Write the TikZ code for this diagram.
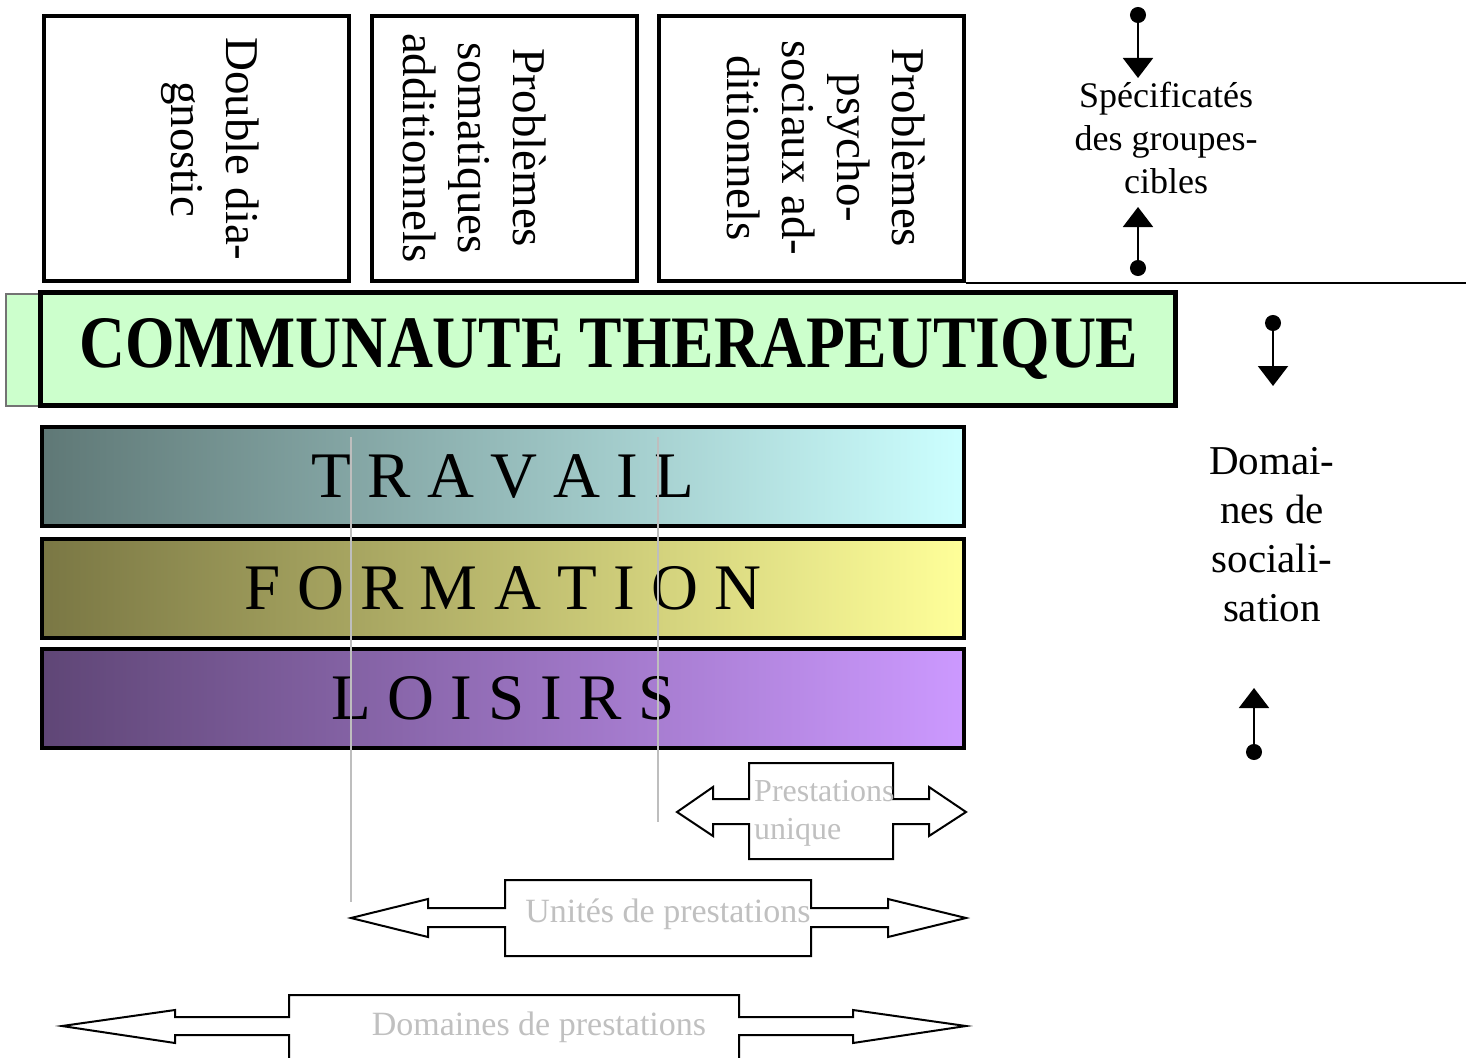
\documentclass[tikz,border=0pt]{standalone}
\usepackage{fontspec}
\setmainfont{Liberation Serif}
\usetikzlibrary{arrows.meta}
\definecolor{greenfill}{RGB}{204,255,204}
\definecolor{presgray}{RGB}{192,192,192}
\definecolor{linegray}{RGB}{190,190,190}
\definecolor{travL}{RGB}{95,120,118}
\definecolor{travR}{RGB}{204,255,255}
\definecolor{formL}{RGB}{122,119,68}
\definecolor{formR}{RGB}{255,255,153}
\definecolor{loisL}{RGB}{95,70,118}
\definecolor{loisR}{RGB}{204,153,255}
\begin{document}
\begin{tikzpicture}[x=1pt,y=-1pt,
  topbox/.style={draw, line width=4pt, fill=white, inner sep=0pt},
  toptext/.style={rotate=-90, align=center, font=\fontsize{47}{55}\selectfont, inner sep=0pt},
  barbox/.style={draw, line width=4pt, inner sep=0pt, minimum width=922pt, minimum height=99pt, font=\fontsize{65}{70}\selectfont},
  prestext/.style={text=presgray, inner sep=0pt},
  bigarrow/.style={draw, line width=2pt, fill=white, line join=miter},
  dotarrow/.style={line width=2pt, {Circle[length=16pt]}-{Triangle[length=20pt,width=30pt]}},
  grayline/.style={draw=linegray, line width=1.5pt},
  sidetext/.style={align=center, inner sep=0pt},
]
\useasboundingbox (0,0) rectangle (1466,1057);
\clip (0,0) rectangle (1466,1057);

% top boxes
\node[topbox, minimum width=305pt, minimum height=265pt] (b1) at (196.5,148.5) {};
\node[topbox, minimum width=265pt, minimum height=265pt] (b2) at (504.5,148.5) {};
\node[topbox, minimum width=305pt, minimum height=265pt] (b3) at (811.5,148.5) {};
\node[toptext] (t1) at (210,149) {Double dia-\\gnostic};
\node[toptext] (t2) at (475,148) {Problèmes\\somatiques\\additionnels};
\node[toptext] (t3) at (826,148) {Problèmes\\psycho-\\sociaux ad-\\ditionnels};

% horizontal rule
\coordinate (hr) at (1466,283);
\draw[line width=1.5pt] (b3.south east) -- (hr);

% communaute
\node[draw=black!55, line width=1.5pt, fill=greenfill, inner sep=0pt, minimum width=34pt, minimum height=112pt] (gs) at (23,350) {};
\node[draw, line width=5pt, fill=greenfill, inner sep=0pt, minimum width=1135pt, minimum height=113pt] (ct) at (608,349) {};
\node[anchor=base, inner sep=0pt, font=\bfseries\fontsize{74}{80}\selectfont] (ctt) at (609,367) {\scalebox{0.86}[1]{COMMUNAUTE THERAPEUTIQUE}};

% bars
\node[barbox, left color=travL, right color=travR] (trav) at (503,476.5) {T R A V A I L};
\node[barbox, left color=formL, right color=formR] (form) at (503,588.5) {F O R M A T I O N};
\node[barbox, left color=loisL, right color=loisR] (lois) at (503,698) {L O I S I R S};

% gray vertical lines
\coordinate (g1a) at (351,437); \coordinate (g1b) at (351,902);
\coordinate (g2a) at (658,437); \coordinate (g2b) at (658,822);
\draw[grayline] (g1a) -- (g1b);
\draw[grayline] (g2a) -- (g2b);

% double arrows
\draw[bigarrow] (677,812) -- (713,787) -- (713,799) -- (749,799) -- (749,763) -- (893,763) -- (893,799) -- (929,799) -- (929,787) -- (966,812) -- (929,836) -- (929,824) -- (893,824) -- (893,859) -- (749,859) -- (749,824) -- (713,824) -- (713,836) -- cycle;
\draw[bigarrow] (351,918) -- (428,899) -- (428,908) -- (505,908) -- (505,880) -- (811,880) -- (811,908) -- (888,908) -- (888,899) -- (966,918) -- (888,937) -- (888,927) -- (811,927) -- (811,956) -- (505,956) -- (505,927) -- (428,927) -- (428,937) -- cycle;
\draw[bigarrow] (62,1026) -- (175,1010) -- (175,1017) -- (289,1017) -- (289,995) -- (739,995) -- (739,1017) -- (853,1017) -- (853,1010) -- (966,1026) -- (853,1043) -- (853,1035) -- (739,1035) -- (739,1080) -- (289,1080) -- (289,1035) -- (175,1035) -- (175,1043) -- cycle;
\node[prestext, anchor=north west, align=left, font=\fontsize{32}{38}\selectfont] (pu) at (754,780) {Prestations\\unique};
\node[prestext, anchor=base, font=\fontsize{34}{40}\selectfont] (up) at (668,922) {Unités de prestations};
\node[prestext, anchor=base, font=\fontsize{34}{40}\selectfont] (dp) at (539,1035) {Domaines de prestations};

% right side
\coordinate (s1a) at (1138,7); \coordinate (s1b) at (1138,78);
\coordinate (s2a) at (1138,276); \coordinate (s2b) at (1138,207);
\draw[dotarrow] (s1a) -- (s1b);
\draw[dotarrow] (s2a) -- (s2b);
\node[sidetext, anchor=north, font=\fontsize{36}{43}\selectfont] (spec) at (1166,82) {Spécificatés\\des groupes-\\cibles};

\coordinate (d1a) at (1273,315); \coordinate (d1b) at (1273,386);
\coordinate (d2a) at (1254,760); \coordinate (d2b) at (1254,688);
\draw[dotarrow] (d1a) -- (d1b);
\draw[dotarrow] (d2a) -- (d2b);
\node[sidetext, anchor=north, font=\fontsize{41}{49}\selectfont] (dom) at (1272,447) {Domai-\\nes de\\sociali-\\sation};
\end{tikzpicture}
\end{document}
